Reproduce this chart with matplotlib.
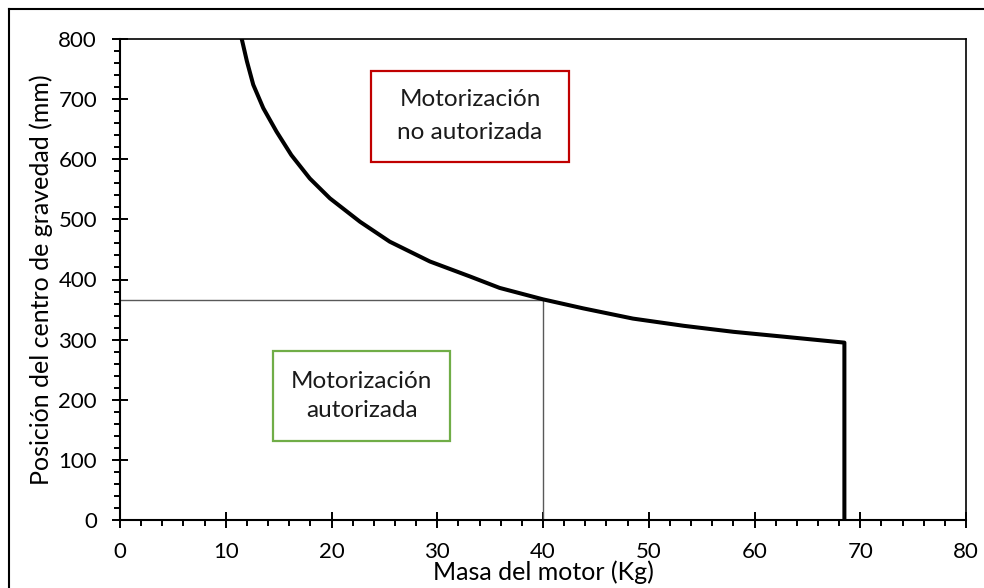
import numpy as np
import matplotlib.pyplot as plt
from matplotlib.patches import Rectangle
from matplotlib.lines import Line2D

plt.rcParams['font.family'] = ['Lato', 'DejaVu Sans']

# limit curve: motor mass (kg) vs centre of gravity position (mm)
masa = [11.5, 12.0, 12.6, 13.55, 14.8, 16.2, 17.95, 19.85, 22.7,
        25.5, 29.3, 33.1, 35.9, 40.0, 43.8, 48.5, 53.3, 58.0, 62.7,
        68.5, 68.5]
posicion = [801, 763, 724, 685, 646, 607, 568, 535, 496,
            463, 430, 405, 386, 367, 352, 335, 323, 313, 305,
            295, 0]

# reference point read on the curve
masa_ref = 40.0
pos_ref = 366

# region labels: (x0, x1, y0, y1) of each frame
zona_no = [23.7, 42.5, 596, 747]
zona_si = [14.45, 31.25, 132, 281]
texto_no = 'Motorización\nno autorizada'
texto_si = 'Motorización\nautorizada'

fig = plt.figure(figsize=(9.84, 5.88), dpi=100)
ax = fig.add_axes([120/984, 1 - 520/588, 846/984, 481/588])

ax.plot(masa, posicion, color='black', lw=2.9, solid_joinstyle='round',
        solid_capstyle='butt', zorder=3)
ax.plot([0, masa_ref, masa_ref], [pos_ref, pos_ref, 0], color='#595959',
        lw=1.0, zorder=2)

for (x0, x1, y0, y1), txt, col, ls in [(zona_no, texto_no, '#C00000', 1.7),
                                       (zona_si, texto_si, '#70AD47', 1.5)]:
    ax.add_patch(Rectangle((x0, y0), x1 - x0, y1 - y0, fill=False,
                           edgecolor=col, lw=1.6, zorder=2))
    ax.text((x0 + x1) / 2, (y0 + y1) / 2, txt, ha='center', va='center',
            fontsize=17.5, linespacing=ls, color='#1a1a1a')

ax.set_xlim(0, 80)
ax.set_ylim(0, 800)
ax.set_xticks(np.arange(0, 81, 10))
ax.set_xticks(np.arange(0, 81, 2), minor=True)
ax.set_yticks(np.arange(0, 801, 100))
ax.set_yticks(np.arange(0, 801, 20), minor=True)

ax.tick_params(which='major', direction='inout', length=11, width=1.4,
               labelsize=16, colors='black')
ax.tick_params(which='minor', direction='out', length=4.5, width=1.4)
ax.tick_params(axis='x', which='major', pad=10)
ax.tick_params(axis='y', which='major', pad=11)

for s in ['left', 'bottom']:
    ax.spines[s].set_linewidth(1.5)
for s in ['top', 'right']:
    ax.spines[s].set_linewidth(1.2)

ax.set_xlabel('Masa del motor (Kg)', fontsize=18, labelpad=-1)
ax.set_ylabel('Posición del centro de gravedad (mm)', fontsize=18,
              labelpad=4)

# outer frame around the chart area
fig.add_artist(Line2D([9/984, 9/984], [0, 1 - 9/588], color='black', lw=1.5,
                      transform=fig.transFigure))
fig.add_artist(Line2D([9/984, 1], [1 - 9/588, 1 - 9/588], color='black',
                      lw=1.5, transform=fig.transFigure))

fig.savefig('out.png', dpi=100)
